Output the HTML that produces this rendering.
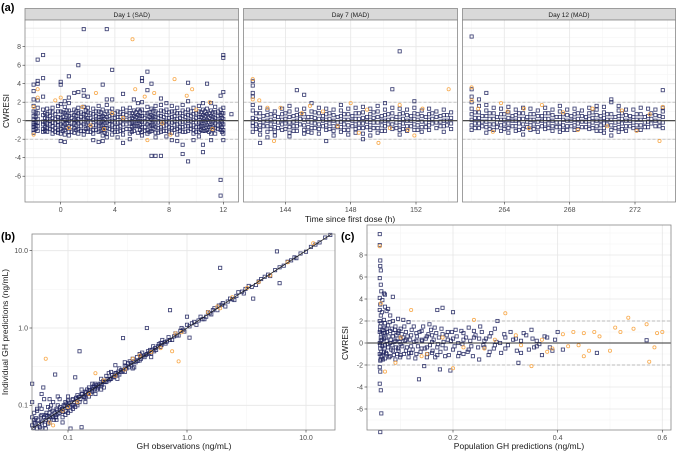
<!DOCTYPE html>
<html><head><meta charset="utf-8"><style>
html,body{margin:0;padding:0;background:#fff}
svg{display:block;font-family:"Liberation Sans",sans-serif}
</style></head><body>
<svg id="fig" width="677" height="453" viewBox="0 0 677 453"></svg>
<script>
// ---------- DATA ----------
const day1Navy = [[-2,[3.9,3.2,2.3,1.6,1.0,0.5,0.1,-0.3,-0.7,-1.0,-1.3,-0.5]],[-1.7,[6.6,4.3,4.0,2.2,1.4,0.8,0.2,-0.2,-0.6,-1.1]],[-1.3,[7.1,4.6,2.6,1.2,0.6,-0.1,-0.4,-0.9,-1.2]],[-1,[1.3,0.7,0.2,-0.3,-0.8,-1.2]],[-0.6,[1.4,0.9,0.3,-0.2,-0.6,-1.0,-1.4]],[-0.2,[1.6,1.0,0.4,-0.1,-0.5,-1.0,-1.3]],[0,[4.2,3.9,1.8,1.0,0.3,-0.4,-0.9,-1.4,-2.2]],[0.3,[2.1,1.5,0.8,0.1,-0.4,-1.0,-1.5,-2.3]],[0.6,[4.8,2.5,1.9,1.1,0.5,0,-0.6,-1.2,-1.6]],[1,[3.0,1.2,0.6,0.1,-0.3,-0.8,-1.3]],[1.3,[6.0,3.1,1.4,0.8,0.2,-0.3,-0.9,-1.4]],[1.7,[9.9,3.3,2.7,1.5,0.7,0.2,-0.4,-1.1,-1.5]],[2,[2.6,1.4,0.9,0.3,-0.2,-0.8,-1.2]],[2.4,[1.3,0.7,0.1,-0.5,-1.0,-1.4,-2.1]],[2.8,[1.6,1.0,0.4,-0.1,-0.6,-1.2,-2.3]],[3.1,[3.9,1.2,0.5,0,-0.5,-1.0,-1.6,-2.2]],[3.4,[9.9,2.3,1.7,1.0,0.4,-0.2,-0.8,-1.4,-1.8]],[3.8,[5.5,2.3,1.3,0.6,0,-0.5,-1.0,-1.5]],[4.2,[1.0,0.4,-0.2,-0.7,-1.2,-1.8]],[4.6,[2.9,1.3,0.7,0.1,-0.4,-1.0,-1.5,-2.4]],[5.1,[1.4,0.8,0.2,-0.3,-0.9,-1.4,-2.0]],[5.4,[2.3,1.1,0.5,-0.1,-0.6,-1.1]],[5.7,[1.9,1.2,0.6,0,-0.6,-1.3]],[6,[4.6,4.3,2.0,1.2,0.5,-0.1,-0.7,-1.2,-1.6]],[6.4,[5.3,3.3,1.5,0.8,0.2,-0.4,-1.0,-1.4]],[6.7,[4.0,1.3,0.6,0.1,-0.5,-1.1,-3.8]],[7,[1.6,1.0,0.4,-0.2,-0.7,-1.3,-1.8,-3.8]],[7.4,[2.4,1.7,1.1,0.5,-0.1,-0.7,-1.2,-3.8]],[7.8,[1.9,1.2,0.6,0,-0.5,-1.1,-1.7]],[8.2,[1.6,1.0,0.4,-0.2,-0.8,-1.3,-2.1]],[8.6,[1.4,0.8,0.2,-0.4,-0.9,-1.5,-2.2]],[9,[1.7,1.1,0.5,-0.1,-0.7,-1.2,-2.6,-3.6]],[9.4,[4.1,2.1,1.2,0.6,0,-0.6,-1.1,-4.4]],[9.8,[1.4,0.7,0.1,-0.5,-1.0,-1.4,-2.1]],[10.2,[1.6,1.0,0.4,-0.2,-0.7,-1.2,-1.7]],[10.5,[1.9,1.2,0.6,0,-0.6,-1.1,-2.6,-3.4]],[10.8,[4.0,1.3,0.7,0.1,-0.5,-1.0]],[11.1,[1.9,1.1,0.5,-0.1,-0.7,-1.4,-2.1]],[11.4,[1.5,0.9,0.3,-0.3,-0.8,-1.4]],[11.8,[2.7,1.2,0.6,0,-0.5,-1.0,-6.4,-8.1]],[12,[7.1,6.8,3.1,1.4,0.8,0.2,-0.4,-1.0,-1.4,-2.1]],[12.6,[0.7]]];
const day1NavyExtra = [[-1.85,[0.9,0.4,-0.1,-0.5,-0.9]],[-1.15,[0.8,0.3,-0.2,-0.7,-1.1]],[-0.8,[1.0,0.5,0,-0.4,-0.9]],[-0.4,[0.7,0.2,-0.3,-0.8,-1.2]],[0.15,[0.9,0.4,-0.1,-0.6,-1.1]],[0.45,[1.1,0.6,0.1,-0.3,-0.8]],[0.8,[0.8,0.3,-0.2,-0.7,-1.2]],[1.15,[1.0,0.5,0,-0.5,-1.0]],[1.5,[0.9,0.4,-0.1,-0.6,-1.1]],[1.85,[1.1,0.6,0.1,-0.4,-0.9]],[2.2,[0.8,0.3,-0.2,-0.7,-1.2]],[2.6,[1.0,0.5,0,-0.5,-1.0]],[2.95,[0.9,0.4,-0.1,-0.6,-1.1]],[3.25,[0.7,0.2,-0.3,-0.8,-1.3]],[3.6,[1.0,0.5,0,-0.4,-0.9]],[4.0,[0.8,0.3,-0.2,-0.7,-1.2]],[4.4,[0.9,0.4,-0.1,-0.6,-1.1]],[4.85,[1.1,0.6,0.1,-0.4,-0.9]],[5.25,[0.8,0.3,-0.2,-0.7,-1.2]],[5.55,[0.9,0.4,-0.1,-0.6]],[5.85,[1.0,0.5,0,-0.5,-1.0]],[6.2,[0.8,0.3,-0.2,-0.7,-1.1]],[6.55,[0.9,0.4,-0.1,-0.6,-1.2]],[6.85,[1.1,0.5,0,-0.5,-0.9]],[7.2,[0.8,0.3,-0.2,-0.8,-1.3]],[7.6,[1.0,0.4,-0.1,-0.6,-1.1]],[8.0,[0.9,0.3,-0.2,-0.7,-1.2]],[8.4,[1.0,0.5,0,-0.5,-1.0]],[8.8,[0.8,0.3,-0.2,-0.7,-1.1]],[9.2,[0.9,0.4,-0.1,-0.6,-1.2]],[9.6,[1.0,0.5,0,-0.5,-0.9]],[10.0,[0.8,0.3,-0.2,-0.7,-1.2]],[10.35,[0.9,0.4,-0.1,-0.6,-1.0]],[10.65,[1.0,0.5,0,-0.5,-1.1]],[10.95,[0.8,0.3,-0.2,-0.7,-1.2]],[11.25,[0.9,0.4,-0.1,-0.6,-1.0]],[11.6,[1.0,0.5,0,-0.5,-0.9]],[11.9,[0.8,0.3,-0.2,-0.7,-1.2]]];
const day1Orange = [[-2,1.5],[-1.7,3.4],[-1.7,2.5],[-2,-1.5],[-0.4,2.2],[0,2.5],[0.6,-0.8],[1.6,1.5],[2.6,3.0],[3.2,-0.9],[5.3,8.8],[5.5,3.4],[6.2,2.6],[6.9,3.0],[6.4,-2.1],[8.4,4.5],[9.3,2.7],[9.7,3.4],[8.1,-1.5],[11,2.0],[11.2,-0.9],[4.6,0.3],[7.5,-0.3],[10,1.2],[3.8,0.8],[2.2,-0.5]];
const day7Navy = [[142,[4.3,3.8,3.0,2.6,1.7,1.1,0.3,-0.2,-0.6,-1.2]],[142.45,[1.4,0.8,0.1,-0.5,-1.0,-2.4,-1.5]],[142.9,[1.2,0.6,0,-0.6,-1.2,-1.8]],[143.35,[1.0,0.5,-0.1,-0.7,-1.2,-1.6]],[143.8,[1.3,0.7,0.1,-0.4,-1.0]],[144.25,[1.6,1.0,0.4,-0.2,-0.7,-1.3,-1.7]],[144.7,[3.3,1.2,0.6,0,-0.6,-1.1]],[145.15,[2.8,1.3,0.7,0.1,-0.5,-1.0,-1.4]],[145.6,[1.9,1.0,0.4,-0.2,-0.8,-1.3]],[146.05,[1.4,0.8,0.2,-0.4,-0.9,-1.4]],[146.5,[1.3,0.7,0.1,-0.5,-1.0,-2.2]],[146.95,[1.2,0.6,0,-0.6,-1.1,-1.6]],[147.4,[1.7,1.1,0.5,-0.1,-0.7,-1.2]],[147.85,[1.3,0.7,0.1,-0.5,-1.0,-1.5]],[148.3,[1.4,0.8,0.2,-0.4,-0.9,-1.3]],[148.75,[1.5,0.9,0.3,-0.3,-0.8,-1.4,-2.0]],[149.2,[1.3,0.7,0.1,-0.5,-1.0,-1.6]],[149.65,[1.6,1.0,0.4,-0.2,-0.8,-1.3]],[150.1,[1.9,1.2,0.6,0,-0.6,-1.1]],[150.55,[3.4,1.4,0.8,0.2,-0.4,-0.9]],[151.0,[7.5,1.3,0.7,0.1,-0.5,-1.0,-1.5]],[151.45,[1.2,0.6,0,-0.6,-1.1]],[151.9,[2.1,1.4,0.8,0.2,-0.4,-1.0]],[152.35,[1.1,0.5,-0.1,-0.7,-1.2]],[152.8,[1.3,0.7,0.1,-0.5,-1.0]],[153.25,[1.0,0.4,-0.2,-0.8]],[153.7,[1.2,0.6,0,-0.6,-1.2]],[154.15,[0.9,0.3,-0.3,-0.9]]];
const day7NavyExtra = [[142.2,[0.8,0.2,-0.4,-0.9]],[142.65,[0.5,-0.1,-0.6]],[143.1,[0.7,0.1,-0.4,-0.9]],[143.55,[0.4,-0.2,-0.8]],[144.0,[0.8,0.2,-0.3,-0.9]],[144.5,[0.5,-0.1,-0.6,-1.1]],[144.9,[0.7,0.2,-0.4]],[145.4,[0.4,-0.1,-0.7,-1.2]],[145.8,[0.9,0.3,-0.3,-0.8]],[146.3,[0.5,0,-0.6]],[146.7,[0.8,0.2,-0.3,-0.9]],[147.2,[0.4,-0.2,-0.7]],[147.6,[0.7,0.1,-0.4,-1.0]],[148.1,[0.5,0,-0.6]],[148.5,[0.8,0.2,-0.3,-0.8]],[149.0,[0.4,-0.1,-0.7]],[149.4,[0.9,0.3,-0.2,-0.8]],[149.9,[0.5,0,-0.5,-1.1]],[150.3,[0.7,0.1,-0.4]],[150.8,[0.4,-0.2,-0.8]],[151.2,[0.8,0.2,-0.3,-0.9]],[151.7,[0.5,0,-0.6]],[152.1,[0.7,0.1,-0.5,-1.0]],[152.6,[0.4,-0.2,-0.7]],[153.0,[0.8,0.2,-0.3]],[153.5,[0.5,-0.1,-0.6]],[153.9,[0.6,0,-0.5]]];
const day7Orange = [[142,4.5],[142,2.3],[142.4,2.2],[142.9,1.4],[143.3,-2.2],[143.7,1.4],[145.0,0.8],[146.3,1.0],[147.2,-0.6],[148.5,-1.3],[149.0,1.2],[150.4,-0.8],[151.0,1.7],[151.5,-1.0],[152.4,1.3],[154.0,3.4],[151.9,-1.6],[145.5,1.6],[148.0,1.9],[149.7,-2.4]];
const day12Navy = [[262,[9.1,3.4,2.6,2.0,1.3,0.7,0.1,-0.5,-1.0]],[262.45,[2.3,1.6,0.9,0.3,-0.3,-0.8]],[262.9,[3.0,1.7,1.1,0.5,-0.1,-0.7,-1.3]],[263.35,[1.4,0.8,0.2,-0.4,-1.0]],[263.8,[1.3,0.7,0.1,-0.5,-1.1]],[264.25,[1.5,0.9,0.3,-0.3,-0.8,-1.3]],[264.7,[1.2,0.6,0,-0.6,-1.1]],[265.15,[1.4,0.8,0.2,-0.4,-0.9,-1.5]],[265.6,[1.3,0.7,0.1,-0.5,-1.0]],[266.05,[1.1,0.5,-0.1,-0.7,-1.2]],[266.5,[1.4,0.8,0.2,-0.4,-0.9]],[266.95,[1.2,0.6,0,-0.6,-1.1]],[267.4,[1.6,1.0,0.4,-0.2,-0.7,-1.2]],[267.85,[1.2,0.6,0,-0.6,-1.0]],[268.3,[1.3,0.7,0.1,-0.5,-1.0]],[268.75,[1.1,0.5,-0.1,-0.7]],[269.2,[1.4,0.8,0.2,-0.4,-0.9]],[269.65,[1.6,1.2,0.6,0,-0.6,-1.1]],[270.1,[1.5,0.9,0.3,-0.3,-0.8,-1.3]],[270.55,[2.3,2.0,0.7,0.1,-0.5,-1.0,-1.6]],[271.0,[1.6,1.1,0.5,-0.1,-0.7,-1.2]],[271.45,[1.2,0.6,0,-0.6,-1.1]],[271.9,[1.2,0.4,-0.2,-0.8]],[272.35,[1.4,0.7,0.1,-0.5,-1.0]],[272.8,[1.3,0.5,-0.1,-0.7]],[273.25,[1.2,0.6,0,-0.6]],[273.7,[3.3,1.4,1.0,0.4,-0.2,-0.8]]];
const day12NavyExtra = [[262.2,[0.9,0.3,-0.3,-0.8]],[262.65,[0.5,-0.1,-0.6]],[263.1,[0.8,0.2,-0.4,-0.9]],[263.55,[0.4,-0.2,-0.7]],[264.0,[0.7,0.1,-0.4,-0.9]],[264.5,[0.5,0,-0.6]],[264.9,[0.8,0.2,-0.3,-1.0]],[265.4,[0.4,-0.1,-0.7]],[265.8,[0.7,0.1,-0.4,-0.9]],[266.3,[0.5,0,-0.6]],[266.7,[0.8,0.2,-0.3,-0.8]],[267.2,[0.4,-0.2,-0.7]],[267.6,[0.7,0.1,-0.5,-1.0]],[268.1,[0.5,0,-0.6]],[268.5,[0.8,0.2,-0.3,-0.9]],[269.0,[0.4,-0.1,-0.7]],[269.4,[0.9,0.3,-0.2,-0.8]],[269.9,[0.5,0,-0.5,-1.1]],[270.3,[0.7,0.1,-0.4]],[270.8,[0.4,-0.2,-0.8]],[271.2,[0.8,0.2,-0.3,-0.9]],[271.7,[0.5,0,-0.6]],[272.1,[0.7,0.1,-0.5,-1.0]],[272.6,[0.4,-0.2,-0.7]],[273.0,[0.8,0.2,-0.3]],[273.5,[0.5,-0.1,-0.6]]];
const day12Orange = [[262,3.6],[262,2.2],[262.4,1.3],[263.3,-1.2],[264.2,1.0],[265.5,-0.8],[266.3,1.7],[267.6,0.9],[268.5,-1.0],[269.4,1.3],[270.3,-0.6],[271.2,1.1],[272.1,-1.1],[272.9,0.7],[273.5,-2.2],[273.7,1.5],[263.8,1.9],[265.2,1.3]];
const gofNavy = [[0.05,0.19],[0.05,0.11],[0.05,0.07],[0.052,0.06],[0.055,0.05],[0.055,0.09],[0.06,0.06],[0.06,0.075],[0.062,0.17],[0.065,0.065],[0.065,0.05],[0.07,0.08],[0.07,0.06],[0.072,0.1],[0.075,0.07],[0.078,0.25],[0.08,0.09],[0.08,0.065],[0.085,0.12],[0.085,0.08],[0.09,0.09],[0.09,0.07],[0.095,0.11],[0.1,0.1],[0.1,0.08],[0.1,0.13],[0.105,0.05],[0.11,0.12],[0.11,0.09],[0.115,0.23],[0.12,0.12],[0.12,0.1],[0.125,0.5],[0.13,0.14],[0.13,0.052],[0.14,0.15],[0.14,0.11],[0.15,0.17],[0.15,0.13],[0.16,0.16],[0.17,0.19],[0.17,0.14],[0.18,0.18],[0.19,0.22],[0.2,0.2],[0.2,0.17],[0.21,0.24],[0.22,0.21],[0.23,0.27],[0.24,0.23],[0.25,0.33],[0.26,0.25],[0.27,0.3],[0.28,0.27],[0.29,0.74],[0.3,0.32],[0.3,0.27],[0.32,0.35],[0.34,0.33],[0.35,0.4],[0.36,0.31],[0.38,0.42],[0.4,0.38],[0.42,0.48],[0.44,0.42],[0.46,1.0],[0.47,0.5],[0.5,0.47],[0.52,0.58],[0.55,0.52],[0.58,0.62],[0.6,0.57],[0.62,0.7],[0.66,0.63],[0.7,0.76],[0.72,1.7],[0.75,0.7],[0.8,0.85],[0.85,0.8],[0.9,1.0],[0.95,0.9],[1.0,1.1],[1.0,1.4],[1.05,0.75],[1.1,1.15],[1.2,1.1],[1.3,1.4],[1.4,1.3],[1.5,1.6],[1.6,1.5],[1.7,1.8],[1.8,1.7],[1.9,6.0],[2.0,2.1],[2.1,1.9],[2.3,2.4],[2.5,2.3],[2.7,2.9],[3.0,2.8],[3.3,3.5],[3.6,2.4],[3.8,3.6],[4.2,4.3],[4.5,4.6],[5.0,4.7],[5.5,5.6],[5.7,9.8],[6.0,3.8],[6.5,6.4],[7.0,7.2],[7.5,7.5],[8.3,8.0],[9.0,9.2],[10,9.7],[11,11.2],[12,12],[13,12.8],[14.5,14.8],[16,16],[0.05,0.055],[0.052,0.08],[0.056,0.065],[0.058,0.052],[0.06,0.09],[0.063,0.07],[0.066,0.08],[0.068,0.058],[0.07,0.07],[0.074,0.085],[0.076,0.065],[0.08,0.075],[0.082,0.1],[0.088,0.085],[0.092,0.1],[0.096,0.085],[0.1,0.115],[0.105,0.095],[0.11,0.1],[0.12,0.135],[0.125,0.11],[0.135,0.13],[0.145,0.16],[0.155,0.14],[0.165,0.18],[0.175,0.16],[0.19,0.19],[0.21,0.2],[0.23,0.22],[0.25,0.26],[0.27,0.25],[0.31,0.3],[0.33,0.37],[0.37,0.36],[0.41,0.43],[0.45,0.45],[0.49,0.52],[0.54,0.55],[0.6,0.64],[0.68,0.67],[0.78,0.78],[0.88,0.92],[1.15,1.2],[1.35,1.3],[1.55,1.55],[1.85,1.95],[2.2,2.2],[2.6,2.6],[3.1,3.2],[4.0,4.0]];
const gofNavyExtra = [[0.051,0.051],[0.053,0.058],[0.054,0.068],[0.057,0.057],[0.059,0.072],[0.061,0.063],[0.064,0.056],[0.067,0.072],[0.069,0.065],[0.071,0.09],[0.073,0.074],[0.077,0.08],[0.079,0.07],[0.081,0.086],[0.083,0.078],[0.086,0.095],[0.089,0.09],[0.091,0.082],[0.094,0.098],[0.097,0.105],[0.099,0.092],[0.102,0.108],[0.107,0.1],[0.109,0.118],[0.113,0.11],[0.117,0.125],[0.119,0.108],[0.123,0.128],[0.127,0.12],[0.132,0.14],[0.137,0.128],[0.142,0.146],[0.147,0.14],[0.152,0.158],[0.158,0.15],[0.163,0.17],[0.168,0.16],[0.173,0.182],[0.179,0.17],[0.185,0.19],[0.192,0.182],[0.198,0.207],[0.205,0.2],[0.215,0.22],[0.225,0.218],[0.235,0.245],[0.245,0.236],[0.255,0.262],[0.265,0.272],[0.28,0.285],[0.29,0.28],[0.31,0.32],[0.325,0.31],[0.34,0.35],[0.36,0.37],[0.385,0.375],[0.41,0.4],[0.43,0.44],[0.46,0.46],[0.48,0.47],[0.51,0.52],[0.53,0.5],[0.57,0.58],[0.61,0.6],[0.65,0.66],[0.72,0.7],[0.82,0.8],[0.93,0.95],[1.05,1.05],[1.25,1.25],[1.45,1.4],[1.65,1.7],[1.95,2.0],[2.4,2.35],[2.9,2.95],[3.5,3.4],[4.8,4.9],[6.0,6.1],[8.0,8.2],[0.058,0.1],[0.063,0.12],[0.068,0.095],[0.075,0.11],[0.082,0.13],[0.09,0.06],[0.095,0.075],[0.105,0.085],[0.115,0.095],[0.13,0.16],[0.14,0.125],[0.16,0.19],[0.19,0.16],[0.22,0.26],[0.26,0.22],[0.3,0.36],[0.35,0.3],[0.4,0.46],[0.5,0.42],[0.06,0.14],[0.07,0.12],[0.055,0.085],[0.06,0.05],[0.065,0.075],[0.052,0.065]];
const gofOrange = [[0.065,0.4],[0.07,0.06],[0.075,0.055],[0.09,0.085],[0.1,0.095],[0.12,0.11],[0.15,0.14],[0.17,0.26],[0.2,0.21],[0.25,0.24],[0.3,0.29],[0.35,0.4],[0.4,0.44],[0.5,0.49],[0.6,0.55],[0.8,0.85],[0.9,0.88],[1.5,1.6],[1.9,1.8],[2.4,2.5],[3.2,3.3],[4,3.9],[5,4.8],[7,7.1],[11.5,12.5],[0.85,0.37],[1.8,1.9],[0.75,0.5]];
const predNavy = [[0.06,9.9],[0.06,8.9],[0.061,7.5],[0.061,7.0],[0.062,6.6],[0.06,5.9],[0.062,5.3],[0.063,4.7],[0.06,4.1],[0.061,3.5],[0.06,3.0],[0.062,2.5],[0.06,2.0],[0.061,1.5],[0.06,1.0],[0.062,0.5],[0.06,0],[0.061,-0.5],[0.06,-1.0],[0.062,-1.5],[0.06,-2.2],[0.061,-2.6],[0.06,-3.7],[0.062,-4.3],[0.063,-6.4],[0.061,-8.1],[0.065,3.9],[0.065,1.2],[0.065,-0.3],[0.065,-1.2],[0.068,4.5],[0.068,2.1],[0.068,0.4],[0.068,-0.8],[0.07,4.4],[0.07,3.3],[0.07,1.8],[0.07,0.9],[0.07,-0.2],[0.07,-1.4],[0.073,2.9],[0.073,1.3],[0.073,0.2],[0.073,-1.0],[0.076,3.1],[0.076,1.6],[0.076,-0.4],[0.08,2.5],[0.08,1.1],[0.08,0],[0.08,-1.2],[0.085,4.2],[0.085,2.0],[0.085,0.6],[0.085,-0.7],[0.09,1.5],[0.09,0.2],[0.09,-1.5],[0.095,2.2],[0.095,0.9],[0.095,-0.5],[0.1,1.3],[0.1,-0.1],[0.1,-1.1],[0.105,2.1],[0.105,0.5],[0.11,1.0],[0.11,-0.7],[0.115,1.9],[0.115,-1.3],[0.12,0.7],[0.12,-0.3],[0.125,1.5],[0.13,0.2],[0.13,-1.0],[0.135,-3.3],[0.14,1.1],[0.14,-0.5],[0.145,-2.1],[0.15,0.6],[0.15,-1.3],[0.155,1.7],[0.16,0.1],[0.16,-0.9],[0.165,1.4],[0.17,3.0],[0.17,-0.4],[0.175,-2.4],[0.18,3.2],[0.18,0.8],[0.185,-1.2],[0.19,0.3],[0.195,-2.5],[0.2,2.8],[0.2,-0.6],[0.205,1.2],[0.21,0],[0.22,0.9],[0.22,-1.0],[0.23,1.4],[0.235,-0.3],[0.24,0.5],[0.25,-1.5],[0.255,1.0],[0.26,0.2],[0.27,-0.8],[0.28,1.3],[0.285,2.0],[0.29,0],[0.3,-0.5],[0.31,1.0],[0.32,0.4],[0.325,-1.8],[0.33,-0.9],[0.34,0.7],[0.35,1.2],[0.355,-0.4],[0.36,0.2],[0.37,-1.1],[0.38,0.5],[0.39,-0.7],[0.4,1.0],[0.41,-0.6],[0.475,-0.9],[0.57,0.25],[0.1,0.4],[0.11,0.3],[0.12,-0.9],[0.13,0.9],[0.14,0.3],[0.15,-0.4],[0.16,0.7],[0.17,-1.1],[0.18,-0.2],[0.19,1.0],[0.2,0.4],[0.21,-1.2],[0.22,0.3],[0.23,-0.6],[0.24,1.1],[0.25,0.4],[0.26,-0.4],[0.27,0.6],[0.28,-0.2],[0.3,0.5],[0.33,0.2],[0.36,-0.3]];
const predNavyExtra = [[0.062,1.8],[0.061,1.2],[0.063,0.8],[0.062,0.2],[0.061,-0.2],[0.063,-0.8],[0.062,-1.2],[0.061,-1.6],[0.064,2.8],[0.064,0.3],[0.066,-1.5],[0.067,0.9],[0.069,1.4],[0.069,-0.5],[0.071,0.5],[0.072,-0.9],[0.074,1.0],[0.075,-0.1],[0.077,0.6],[0.078,-1.3],[0.079,1.9],[0.081,0.3],[0.082,-0.6],[0.083,1.3],[0.084,-0.2],[0.086,0.9],[0.087,-1.1],[0.088,0.1],[0.089,1.2],[0.091,-0.4],[0.092,0.7],[0.093,-1.0],[0.094,0.4],[0.096,-0.7],[0.097,1.1],[0.098,0.1],[0.099,-1.3],[0.102,0.8],[0.103,-0.3],[0.106,-1.0],[0.107,1.5],[0.108,0.2],[0.112,-0.4],[0.113,0.6],[0.116,-0.9],[0.118,0.3],[0.121,1.2],[0.123,-0.6],[0.126,0.1],[0.128,-1.4],[0.131,0.6],[0.133,-0.3],[0.136,1.0],[0.138,-0.8],[0.141,0.2],[0.143,1.5],[0.146,-0.5],[0.148,0.4],[0.151,-1.0],[0.153,0.8],[0.156,-0.2],[0.158,1.2],[0.161,-0.7],[0.163,0.3],[0.166,-1.3],[0.168,0.9],[0.171,-0.1],[0.173,0.5],[0.176,-0.8],[0.178,1.3],[0.182,0.1],[0.186,-0.5],[0.188,0.7],[0.192,-1.1],[0.196,0.2],[0.198,1.0],[0.203,-0.3],[0.207,0.6],[0.212,-0.9],[0.216,1.1],[0.218,-0.1],[0.225,0.5],[0.228,-0.8],[0.233,0.2],[0.238,-1.2],[0.243,0.7],[0.248,-0.4],[0.252,1.5],[0.258,-0.2],[0.263,0.4],[0.268,-1.1],[0.273,0.9],[0.278,-0.5],[0.283,0.1],[0.292,-0.9],[0.298,0.8],[0.305,-0.2],[0.315,0.3],[0.322,-0.7],[0.335,0.9],[0.345,-0.6],[0.352,0.4],[0.365,-0.1],[0.375,0.6],[0.385,-0.4],[0.395,0.3]];
const predOrange = [[0.06,8.8],[0.062,3.6],[0.07,-2.6],[0.1,0.5],[0.12,3.0],[0.15,-1.0],[0.2,-2.3],[0.24,2.1],[0.26,-0.5],[0.3,2.7],[0.32,0.7],[0.35,-2.1],[0.37,0.3],[0.39,-0.5],[0.41,0.8],[0.43,1.0],[0.44,-0.2],[0.45,0.9],[0.46,-0.7],[0.47,1.0],[0.45,-1.2],[0.48,0.6],[0.5,-0.7],[0.51,1.4],[0.52,1.0],[0.535,2.3],[0.545,1.3],[0.57,1.7],[0.575,-1.7],[0.585,-0.4],[0.59,0.9],[0.6,1.0],[0.42,-0.3],[0.38,-0.8],[0.33,-0.2],[0.28,0.3],[0.22,-0.4],[0.18,0.5],[0.14,-1.2],[0.09,-1.8]];
const cwresTicks = [-6,-4,-2,0,2,4,6,8];
const day1Ticks = [0,4,8,12];
const day7Ticks = [144,148,152];
const day12Ticks = [264,268,272];
const logTicks = [0.1,1,10];
const logTickLabels = ["0.1","1.0","10.0"];
const predTicks = [0.2,0.4,0.6];

// ---------- HELPERS ----------
const NS="http://www.w3.org/2000/svg";
const svg=document.getElementById('fig');
function mk(tag,attrs,parent){const e=document.createElementNS(NS,tag);for(const k in attrs)e.setAttribute(k,attrs[k]);(parent||svg).appendChild(e);return e;}
function lin(d0,d1,r0,r1){return v=>r0+(v-d0)/(d1-d0)*(r1-r0);}
function lg(d0,d1,r0,r1){return v=>r0+(Math.log10(v)-Math.log10(d0))/(Math.log10(d1)-Math.log10(d0))*(r1-r0);}
const NAVY="#1a1f5c", ORANGE="#f7a23c", GRIDMAJ="#e6e6e6", GRIDMIN="#f3f3f3", AX="#4d4d4d";

function panel(name,x0,x1,y0,y1,xs,ys,xmaj,xmin,ymaj,ymin){
  const g=mk('g',{});
  
  
  mk('rect',{x:x0,y:y0,width:x1-x0,height:y1-y0,fill:'#fff'},g);
  xmin.forEach(v=>{const x=xs(v);if(x>x0&&x<x1)mk('line',{x1:x,x2:x,y1:y0,y2:y1,stroke:GRIDMIN,'stroke-width':0.5},g);});
  ymin.forEach(v=>{const y=ys(v);if(y>y0&&y<y1)mk('line',{x1:x0,x2:x1,y1:y,y2:y,stroke:GRIDMIN,'stroke-width':0.5},g);});
  xmaj.forEach(v=>{const x=xs(v);mk('line',{x1:x,x2:x,y1:y0,y2:y1,stroke:GRIDMAJ,'stroke-width':0.8},g);});
  ymaj.forEach(v=>{const y=ys(v);mk('line',{x1:x0,x2:x1,y1:y,y2:y,stroke:GRIDMAJ,'stroke-width':0.8},g);});
  return g;
}
function frame(g,x0,x1,y0,y1){mk('rect',{x:x0,y:y0,width:x1-x0,height:y1-y0,fill:'none',stroke:'#888','stroke-width':0.8},g);}
function refLines(g,x0,x1,ys){
  [2,-2].forEach(v=>mk('line',{x1:x0,x2:x1,y1:ys(v),y2:ys(v),stroke:'#aaa','stroke-width':0.7,'stroke-dasharray':'3,2'},g));
}
function zeroLine(g,x0,x1,ys){mk('line',{x1:x0,x2:x1,y1:ys(0),y2:ys(0),stroke:'#333','stroke-width':1.1},g);}
function sq(g,x,y){return mk('rect',{x:x-1.6,y:y-1.6,width:3.2,height:3.2,fill:'none',stroke:NAVY,'stroke-width':0.85,'stroke-opacity':0.85},g);}
function ci(g,x,y){return mk('circle',{cx:x,cy:y,r:1.6,fill:'none',stroke:ORANGE,'stroke-width':0.8,'stroke-opacity':0.9},g);}
function txt(s,x,y,opts,parent){const t=mk('text',Object.assign({x:x,y:y,'font-size':7,fill:AX,'text-anchor':'middle'},opts||{}),parent);t.textContent=s;return t;}

// ---------- PANEL A ----------
const aY0=20,aY1=202;
const aYs=lin(0,2,120.7,102.2);
const facets=[
 {name:'day1',title:'Day 1 (SAD)',x0:25,x1:238.5,xs:lin(0,12,60.7,223.3),ticks:day1Ticks,minor:[-2,2,6,10],navy:day1Navy.concat(day1NavyExtra),orange:day1Orange},
 {name:'day7',title:'Day 7 (MAD)',x0:243.5,x1:457.5,xs:lin(144,152,285.4,416),ticks:day7Ticks,minor:[142,146,150,154],navy:day7Navy.concat(day7NavyExtra),orange:day7Orange},
 {name:'day12',title:'Day 12 (MAD)',x0:462.5,x1:675.5,xs:lin(264,272,504.3,635),ticks:day12Ticks,minor:[262,266,270,274],navy:day12Navy.concat(day12NavyExtra),orange:day12Orange}
];
const yMinorA=[-9,-7,-5,-3,-1,1,3,5,7,9,10];
facets.forEach(f=>{
  const strip=mk('rect',{x:f.x0,y:8.5,width:f.x1-f.x0,height:11.5,fill:'#d9d9d9',stroke:'#888','stroke-width':0.8});
  
  
  const st=txt(f.title,(f.x0+f.x1)/2,17,{'font-size':6.5,fill:'#1a1a1a'});
  
  
  const g=panel('panel-a-'+f.name,f.x0,f.x1,aY0,aY1,f.xs,aYs,f.ticks,f.minor,cwresTicks.concat([10]),yMinorA);
  refLines(g,f.x0,f.x1,aYs);
  f.navy.forEach(col=>col[1].forEach(v=>{const m=sq(g,f.xs(col[0]),aYs(v));
    
    }));
  f.orange.forEach(p=>{const m=ci(g,f.xs(p[0]),aYs(p[1]));
    
    });
  zeroLine(g,f.x0,f.x1,aYs);
  frame(g,f.x0,f.x1,aY0,aY1);
  f.ticks.forEach(v=>{mk('line',{x1:f.xs(v),x2:f.xs(v),y1:aY1,y2:aY1+2.5,stroke:'#333','stroke-width':0.6});
    const t=txt(String(v),f.xs(v),aY1+10);
    
    });
});
cwresTicks.forEach(v=>{const y=aYs(v);mk('line',{x1:22.5,x2:25,y1:y,y2:y,stroke:'#333','stroke-width':0.6});
  const t=txt(String(v),21,y+2.4,{'text-anchor':'end'});
  
  });
let t;
t=txt('CWRESI',9,111,{'font-size':8.5,fill:'#1a1a1a',transform:'rotate(-90 9 111)'});


t=txt('Time since first dose (h)',350,222,{'font-size':8.5,fill:'#1a1a1a'});


t=txt('(a)',1,11,{'font-size':11,'font-weight':'bold',fill:'#000','text-anchor':'start'});



// ---------- PANEL B ----------
const bX0=32,bX1=335,bY0=234,bY1=430;
const bXs=lg(0.1,10,68,306), bYs=lg(0.1,10,405.3,250.7);
const logMinor=[0.0316,0.316,3.16];
const gb=panel('panel-b',bX0,bX1,bY0,bY1,bXs,bYs,logTicks,logMinor,logTicks,logMinor);
gofNavy.concat(gofNavyExtra).forEach(p=>{const m=sq(gb,bXs(p[0]),bYs(p[1]));
  
  });
gofOrange.forEach(p=>{const m=ci(gb,bXs(p[0]),bYs(p[1]));
  
  });
const dl=mk('line',{x1:bXs(0.0498),y1:bYs(0.0498),x2:bXs(16.4),y2:bYs(16.4),stroke:'#222','stroke-width':0.8},gb);


frame(gb,bX0,bX1,bY0,bY1);
logTicks.forEach((v,i)=>{
  mk('line',{x1:bXs(v),x2:bXs(v),y1:bY1,y2:bY1+2.5,stroke:'#333','stroke-width':0.6});
  let a=txt(logTickLabels[i],bXs(v),bY1+10);
  
  
  mk('line',{x1:bX0-2.5,x2:bX0,y1:bYs(v),y2:bYs(v),stroke:'#333','stroke-width':0.6});
  a=txt(logTickLabels[i],bX0-4,bYs(v)+2.4,{'text-anchor':'end'});
  
  
});
t=txt('Individual GH predictions (ng/mL)',8,332,{'font-size':8.5,fill:'#1a1a1a',transform:'rotate(-90 8 332)'});


t=txt('GH observations (ng/mL)',184,449,{'font-size':8.5,fill:'#1a1a1a'});


t=txt('(b)',1,240,{'font-size':11,'font-weight':'bold',fill:'#000','text-anchor':'start'});



// ---------- PANEL C ----------
const cX0=367,cX1=671,cY0=225,cY1=430;
const cXs=lin(0.2,0.6,453,662.3), cYs=lin(0,8,343,255);
const gc=panel('panel-c',cX0,cX1,cY0,cY1,cXs,cYs,predTicks,[0.1,0.3,0.5],cwresTicks,yMinorA);
refLines(gc,cX0,cX1,cYs);
predNavy.concat(predNavyExtra).forEach(p=>{const m=sq(gc,cXs(p[0]),cYs(p[1]));
  
  });
predOrange.forEach(p=>{const m=ci(gc,cXs(p[0]),cYs(p[1]));
  
  });
zeroLine(gc,cX0,cX1,cYs);
frame(gc,cX0,cX1,cY0,cY1);
predTicks.forEach(v=>{mk('line',{x1:cXs(v),x2:cXs(v),y1:cY1,y2:cY1+2.5,stroke:'#333','stroke-width':0.6});
  const a=txt(String(v),cXs(v),cY1+10);
  
  });
cwresTicks.forEach(v=>{const y=cYs(v);mk('line',{x1:cX0-2.5,x2:cX0,y1:y,y2:y,stroke:'#333','stroke-width':0.6});
  const a=txt(String(v),cX0-4,y+2.4,{'text-anchor':'end'});
  
  });
t=txt('CWRESI',348,343,{'font-size':8.5,fill:'#1a1a1a',transform:'rotate(-90 348 343)'});


t=txt('Population GH predictions (ng/mL)',519,449,{'font-size':8.5,fill:'#1a1a1a'});


t=txt('(c)',341,240,{'font-size':11,'font-weight':'bold',fill:'#000','text-anchor':'start'});


</script>
</body></html>
